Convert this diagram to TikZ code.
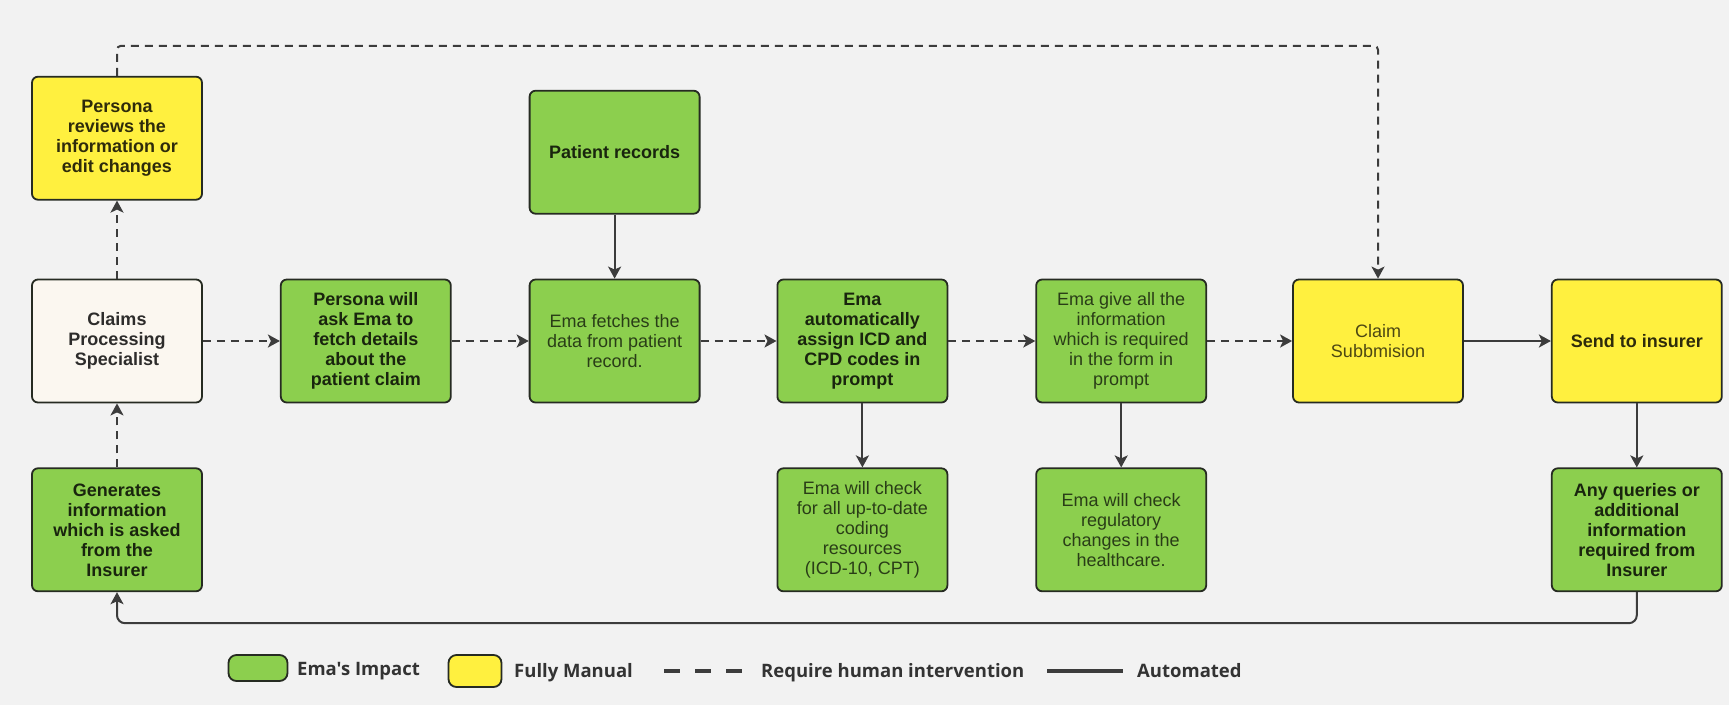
\documentclass[tikz,border=0pt]{standalone}
\usepackage{fontspec}
\setmainfont{Liberation Sans}
\newfontfamily\keyfont{Open Sans}
\usepackage{tikz}
\usetikzlibrary{arrows.meta, positioning}
\definecolor{paper}{HTML}{F2F2F2}
\definecolor{emagreen}{HTML}{8CCF4E}
\definecolor{manualyellow}{HTML}{FFF03F}
\definecolor{cream}{HTML}{FBF7F0}
\definecolor{edge}{HTML}{262B22}
\definecolor{wire}{HTML}{3C3C3C}
\definecolor{keyink}{HTML}{333333}

\begin{document}
\begin{tikzpicture}[
    x=1pt, y=-1pt,
    every node/.style={font=\fontsize{18}{20}\selectfont},
    box/.style={draw=edge, line width=1.8pt, rounded corners=6pt,
      minimum width=170pt, minimum height=123pt, align=center,
      inner sep=3pt, text=black, text opacity=0.7},
    ema/.style={box, fill=emagreen},
    hand/.style={box, fill=manualyellow},
    strong/.style={font=\fontsize{18}{20}\selectfont\bfseries, text opacity=0.82},
    arr/.style={-{Stealth[length=12pt, width=13pt, inset=3pt]}, wire, line width=2pt},
    harr/.style={arr, dash pattern=on 8pt off 6pt},
    key/.style={draw=edge, line width=1.8pt, rounded corners=8pt},
    keytxt/.style={font=\keyfont\bfseries\fontsize{18.5}{22}\selectfont,
      text=keyink, inner sep=0pt, anchor=base west}
  ]
  \fill[paper] (0,0) rectangle (1729,705);

  \node[box, fill=cream, strong] (cps) at (117,341) {Claims\\Processing\\Specialist};
  \node[ema, strong, right=77pt of cps] (ask) {Persona will\\ask Ema to\\fetch details\\about the\\patient claim};
  \node[ema, right=77pt of ask] (fetch) {Ema fetches the\\data from patient\\record.};
  \node[ema, strong, right=76pt of fetch] (assign) {Ema\\automatically\\assign ICD and\\CPD codes in\\prompt};
  \node[ema, right=87pt of assign] (give) {Ema give all the\\information\\which is required\\in the form in\\prompt};
  \node[hand, right=85pt of give] (submit) {Claim\\Subbmision};
  \node[hand, strong, right=87pt of submit] (send) {Send to insurer};

  \node[hand, strong, above=78pt of cps] (review) {Persona\\reviews the\\information or\\edit changes};
  \node[ema, strong, below=64pt of cps] (generate) {Generates\\information\\which is asked\\from the\\Insurer};
  \node[ema, strong, above=64pt of fetch] (records) {Patient records};
  \node[ema, below=64pt of assign] (coding) {Ema will check\\for all up-to-date\\coding\\resources\\(ICD-10, CPT)};
  \node[ema, below=64pt of give] (rules) {Ema will check\\regulatory\\changes in the\\healthcare.};
  \node[ema, strong, below=64pt of send] (queries) {Any queries or\\additional\\information\\required from\\Insurer};

  \draw[harr] (cps) -- (ask);
  \draw[harr] (ask) -- (fetch);
  \draw[harr] (fetch) -- (assign);
  \draw[harr] (assign) -- (give);
  \draw[harr] (give) -- (submit);
  \draw[harr] (cps) -- (review);
  \draw[harr] (generate) -- (cps);
  \draw[harr, rounded corners=4pt] (review.north) -- ++(0,-30) -| (submit.north);

  \draw[arr] (records) -- (fetch);
  \draw[arr] (assign) -- (coding);
  \draw[arr] (give) -- (rules);
  \draw[arr] (submit) -- (send);
  \draw[arr] (send) -- (queries);
  \draw[arr, rounded corners=8pt] (queries.south) -- ++(0,31) -| (generate.south);

  \node[key, fill=emagreen, minimum width=59pt, minimum height=26pt] (keyema) at (258,668) {};
  \node[keytxt] (keyematxt) at (297,675) {Ema's Impact};
  \node[key, fill=manualyellow, minimum width=53pt, minimum height=32pt] (keyhand) at (475,671) {};
  \node[keytxt] (keyhandtxt) at (514,677) {Fully Manual};
  \coordinate (keydash) at (664,671);
  \draw[wire, line width=4pt, dash pattern=on 16pt off 15pt] (keydash) -- ++(78,0);
  \node[keytxt] (keyhumantxt) at (761,677) {Require human intervention};
  \coordinate (keysolid) at (1047,671);
  \draw[wire, line width=4pt] (keysolid) -- ++(76,0);
  \node[keytxt] (keyautotxt) at (1137,677) {Automated};
\end{tikzpicture}
\end{document}
